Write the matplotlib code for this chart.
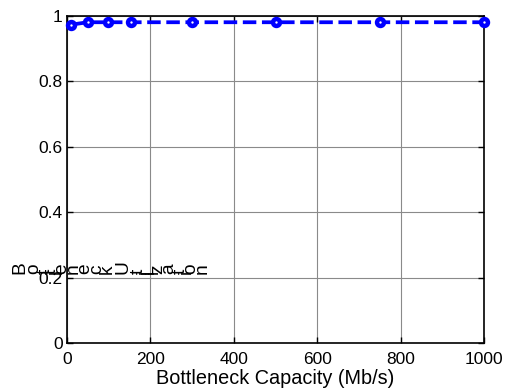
import matplotlib
matplotlib.use("Agg")
import matplotlib.pyplot as plt
from matplotlib.font_manager import FontProperties

# Measured link utilisation versus bottleneck capacity
capacity = [10, 50, 100, 155, 300, 500, 750, 1000]
utilization = [0.9725, 0.98, 0.98, 0.98, 0.98, 0.98, 0.98, 0.98]

x_ticks = [0, 200, 400, 600, 800, 1000]
y_ticks = [0, 0.2, 0.4, 0.6, 0.8, 1]
y_tick_labels = ["0", "0.2", "0.4", "0.6", "0.8", "1"]

x_label = "Bottleneck Capacity (Mb/s)"
y_label = "Bottleneck Utilization"

FONT = "Liberation Sans"
TICK_FS = 12.5
LABEL_FS = 14.3
W, H = 508, 390

fig = plt.figure(figsize=(W / 100, H / 100), dpi=100)
ax = fig.add_axes([66.7 / W, 1 - 343 / H, (484.3 - 66.7) / W, (343 - 15.7) / H])

ax.plot(capacity, utilization, color="#0000ff", linewidth=2.7,
        linestyle=(0, (3.6, 1.5)), marker="o", markersize=5,
        markeredgewidth=3.2, markerfacecolor="white", markeredgecolor="#0000ff",
        clip_on=False, zorder=3)

ax.set_xlim(0, 1000)
ax.set_ylim(0, 1)
ax.set_xticks(x_ticks)
ax.set_xticklabels([str(t) for t in x_ticks], fontfamily=FONT, fontsize=TICK_FS)
ax.set_yticks(y_ticks)
ax.set_yticklabels(y_tick_labels, fontfamily=FONT, fontsize=TICK_FS)
ax.tick_params(direction="in", length=4, width=1, colors="black",
               top=True, right=True)
ax.tick_params(axis="x", pad=6.5)
ax.tick_params(axis="y", pad=3)
ax.grid(True, color="#8a8a8a", linewidth=0.8, linestyle="-")
ax.set_axisbelow(True)
for s in ax.spines.values():
    s.set_linewidth(1.2)
    s.set_color("black")

ax.set_xlabel(x_label, fontfamily=FONT, fontsize=LABEL_FS, labelpad=1.5)

# Axis title drawn glyph by glyph, each turned on its side
fp = FontProperties(family=FONT, size=13.8)
renderer = fig.canvas.get_renderer()
x0, y0 = 24, 274
spread = 1.1
for i, ch in enumerate(y_label):
    adv = renderer.get_text_width_height_descent(y_label[:i], fp, ismath=False)[0] if i else 0
    fig.text((x0 + spread * adv) / W, 1 - y0 / H, ch, fontproperties=fp, rotation=90,
             rotation_mode="anchor", ha="left", va="baseline")

fig.savefig("out.png", dpi=100)
